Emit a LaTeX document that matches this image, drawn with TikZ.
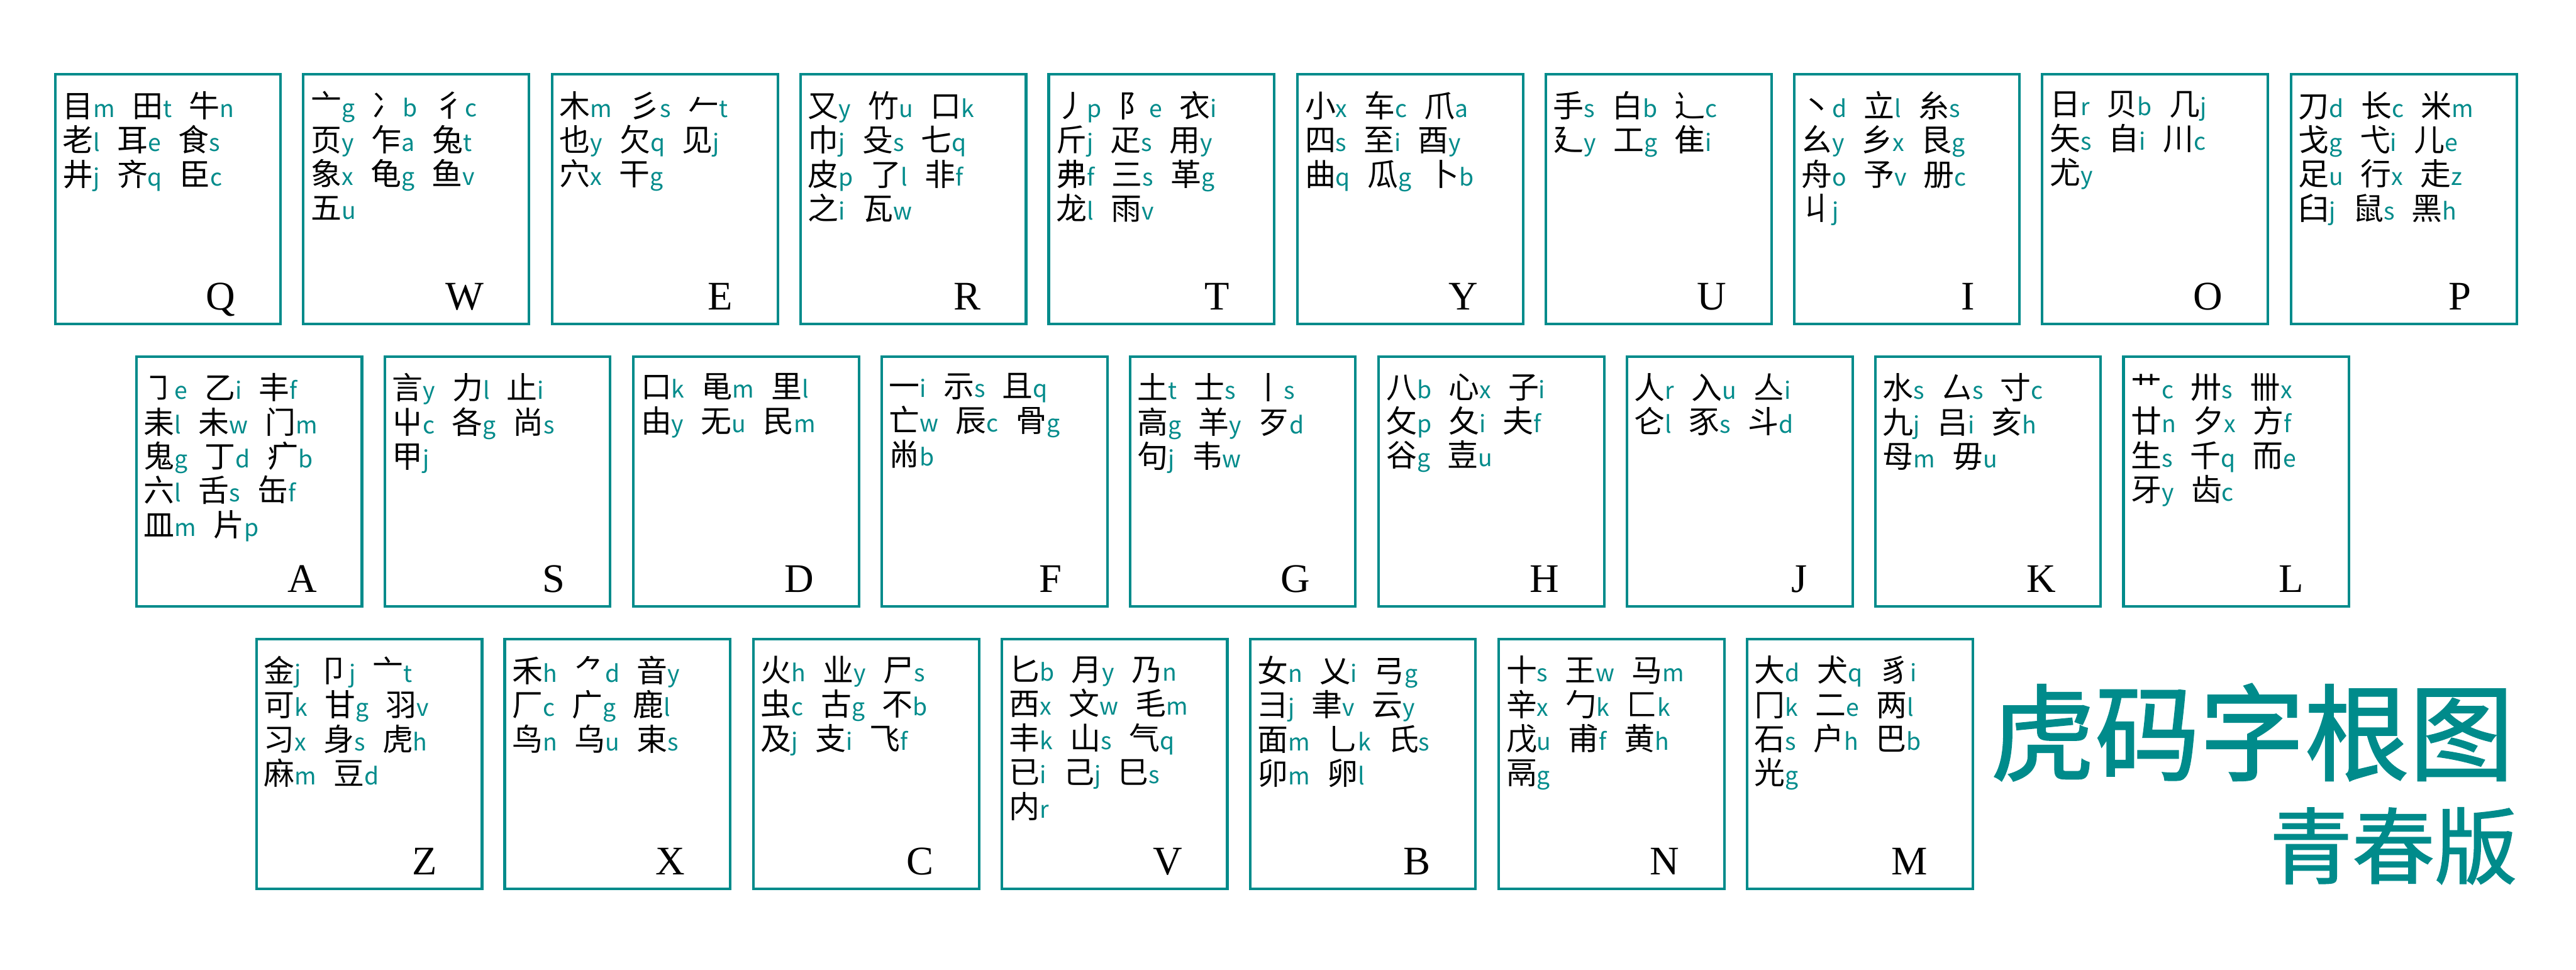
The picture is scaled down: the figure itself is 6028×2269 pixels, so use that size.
\documentclass[tikz,border=0pt]{standalone}
\usepackage{fontspec}
\usepackage{xcolor}
\usepackage{tikz}
\usetikzlibrary{calc}

\newfontfamily\cjk{Noto Sans CJK SC}
\newfontfamily\titlecjk[FakeBold=1.5]{Noto Sans CJK SC}
\newfontfamily\keyserif{Liberation Serif}
\definecolor{hmteal}{RGB}{0,139,139}
\newcommand{\rootfont}{\cjk\fontsize{7.2mm}{8mm}\selectfont}
% radical + its code letter
\newcommand{\zg}[2]{#1{\fontsize{5.5mm}{8mm}\selectfont\color{hmteal}#2}\hspace{4mm}}

\begin{document}
\begin{tikzpicture}[
    x=0.1mm, y=-0.1mm,
    keybox/.style={draw=hmteal, line width=0.6mm, anchor=north west, minimum width=52.8mm, minimum height=58.4mm, inner sep=0pt},
    roots/.style={anchor=north west, inner sep=0pt, align=left, font=\rootfont, execute at begin node={\rule{0pt}{7mm}}},
    keyname/.style={anchor=base east, inner sep=0pt, font=\keyserif\fontsize{9.5mm}{10mm}\selectfont},
    maintitle/.style={inner sep=0pt, text=hmteal, font=\titlecjk\fontsize{24.5mm}{26mm}\selectfont},
    subtitle/.style={inner sep=0pt, text=hmteal, font=\titlecjk\fontsize{19.3mm}{21mm}\selectfont}
]
    \fill[white] (0,0) rectangle (6028,2269);
    \useasboundingbox (0,0) rectangle (6028,2269);

    % Row 1
    \node[keybox] (Q) at (126,171) {};
    \node[keybox] (W) at (707,171) {};
    \node[keybox] (E) at (1289,171) {};
    \node[keybox] (R) at (1870,171) {};
    \node[keybox] (T) at (2451,171) {};
    \node[keybox] (Y) at (3033,171) {};
    \node[keybox] (U) at (3614,171) {};
    \node[keybox] (I) at (4195,171) {};
    \node[keybox] (O) at (4776,171) {};
    \node[keybox] (P) at (5358,171) {};

    % Row 2
    \node[keybox] (A) at (316,831) {};
    \node[keybox] (S) at (897,831) {};
    \node[keybox] (D) at (1479,831) {};
    \node[keybox] (F) at (2060,831) {};
    \node[keybox] (G) at (2641,831) {};
    \node[keybox] (H) at (3223,831) {};
    \node[keybox] (J) at (3804,831) {};
    \node[keybox] (K) at (4385,831) {};
    \node[keybox] (L) at (4966,831) {};

    % Row 3
    \node[keybox] (Z) at (597,1492) {};
    \node[keybox] (X) at (1178,1492) {};
    \node[keybox] (C) at (1760,1492) {};
    \node[keybox] (V) at (2341,1492) {};
    \node[keybox] (B) at (2922,1492) {};
    \node[keybox] (N) at (3504,1492) {};
    \node[keybox] (M) at (4085,1492) {};

    % Key letters
    \foreach \k in {Q,W,E,R,T,Y,U,I,O,P,A,S,D,F,G,H,J,K,L,Z,X,C,V,B,N,M}
        \node[keyname] (\k-name) at ($(\k.south east)+(-108,-36)$) {\k};

    % Radicals
    \node[roots] (Q-roots) at ($(Q.north west)+(20,42)$) {\zg{目}{m}\zg{田}{t}\zg{牛}{n}\\\zg{老}{l}\zg{耳}{e}\zg{食}{s}\\\zg{井}{j}\zg{齐}{q}\zg{臣}{c}};
    \node[roots] (W-roots) at ($(W.north west)+(20,42)$) {\zg{亠}{g}\zg{冫}{b}\zg{彳}{c}\\\zg{页}{y}\zg{乍}{a}\zg{兔}{t}\\\zg{象}{x}\zg{龟}{g}\zg{鱼}{v}\\\zg{五}{u}};
    \node[roots] (E-roots) at ($(E.north west)+(20,42)$) {\zg{木}{m}\zg{彡}{s}\zg{𠂉}{t}\\\zg{也}{y}\zg{欠}{q}\zg{见}{j}\\\zg{穴}{x}\zg{干}{g}};
    \node[roots] (R-roots) at ($(R.north west)+(20,42)$) {\zg{又}{y}\zg{竹}{u}\zg{口}{k}\\\zg{巾}{j}\zg{殳}{s}\zg{七}{q}\\\zg{皮}{p}\zg{了}{l}\zg{非}{f}\\\zg{之}{i}\zg{瓦}{w}};
    \node[roots] (T-roots) at ($(T.north west)+(20,42)$) {\zg{丿}{p}\zg{阝}{e}\zg{衣}{i}\\\zg{斤}{j}\zg{疋}{s}\zg{用}{y}\\\zg{弗}{f}\zg{三}{s}\zg{革}{g}\\\zg{龙}{l}\zg{雨}{v}};
    \node[roots] (Y-roots) at ($(Y.north west)+(20,42)$) {\zg{小}{x}\zg{车}{c}\zg{爪}{a}\\\zg{四}{s}\zg{至}{i}\zg{酉}{y}\\\zg{曲}{q}\zg{瓜}{g}\zg{卜}{b}};
    \node[roots] (U-roots) at ($(U.north west)+(20,42)$) {\zg{手}{s}\zg{白}{b}\zg{辶}{c}\\\zg{廴}{y}\zg{工}{g}\zg{隹}{i}};
    \node[roots] (I-roots) at ($(I.north west)+(20,42)$) {\zg{丶}{d}\zg{立}{l}\zg{糸}{s}\\\zg{幺}{y}\zg{乡}{x}\zg{艮}{g}\\\zg{舟}{o}\zg{予}{v}\zg{册}{c}\\\zg{丩}{j}};
    \node[roots] (O-roots) at ($(O.north west)+(20,42)$) {\zg{日}{r}\zg{贝}{b}\zg{几}{j}\\\zg{矢}{s}\zg{自}{i}\zg{川}{c}\\\zg{尤}{y}};
    \node[roots] (P-roots) at ($(P.north west)+(20,42)$) {\zg{刀}{d}\zg{长}{c}\zg{米}{m}\\\zg{戈}{g}\zg{弋}{i}\zg{儿}{e}\\\zg{足}{u}\zg{行}{x}\zg{走}{z}\\\zg{臼}{j}\zg{鼠}{s}\zg{黑}{h}};

    \node[roots] (A-roots) at ($(A.north west)+(20,42)$) {\zg{㇆}{e}\zg{乙}{i}\zg{丰}{f}\\\zg{耒}{l}\zg{未}{w}\zg{门}{m}\\\zg{鬼}{g}\zg{丁}{d}\zg{疒}{b}\\\zg{六}{l}\zg{舌}{s}\zg{缶}{f}\\\zg{皿}{m}\zg{片}{p}};
    \node[roots] (S-roots) at ($(S.north west)+(20,42)$) {\zg{言}{y}\zg{力}{l}\zg{止}{i}\\\zg{屮}{c}\zg{各}{g}\zg{尚}{s}\\\zg{甲}{j}};
    \node[roots] (D-roots) at ($(D.north west)+(20,42)$) {\zg{口}{k}\zg{黾}{m}\zg{里}{l}\\\zg{由}{y}\zg{无}{u}\zg{民}{m}};
    \node[roots] (F-roots) at ($(F.north west)+(20,42)$) {\zg{一}{i}\zg{示}{s}\zg{且}{q}\\\zg{亡}{w}\zg{辰}{c}\zg{骨}{g}\\\zg{㡀}{b}};
    \node[roots] (G-roots) at ($(G.north west)+(20,42)$) {\zg{土}{t}\zg{士}{s}\zg{丨}{s}\\\zg{高}{g}\zg{羊}{y}\zg{歹}{d}\\\zg{句}{j}\zg{韦}{w}};
    \node[roots] (H-roots) at ($(H.north west)+(20,42)$) {\zg{八}{b}\zg{心}{x}\zg{子}{i}\\\zg{攵}{p}\zg{夂}{i}\zg{夫}{f}\\\zg{谷}{g}\zg{壴}{u}};
    \node[roots] (J-roots) at ($(J.north west)+(20,42)$) {\zg{人}{r}\zg{入}{u}\zg{亼}{i}\\\zg{仑}{l}\zg{豕}{s}\zg{斗}{d}};
    \node[roots] (K-roots) at ($(K.north west)+(20,42)$) {\zg{水}{s}\zg{厶}{s}\zg{寸}{c}\\\zg{九}{j}\zg{吕}{i}\zg{亥}{h}\\\zg{母}{m}\zg{毋}{u}};
    \node[roots] (L-roots) at ($(L.north west)+(20,42)$) {\zg{艹}{c}\zg{卅}{s}\zg{卌}{x}\\\zg{廿}{n}\zg{夕}{x}\zg{方}{f}\\\zg{生}{s}\zg{千}{q}\zg{而}{e}\\\zg{牙}{y}\zg{齿}{c}};

    \node[roots] (Z-roots) at ($(Z.north west)+(20,42)$) {\zg{金}{j}\zg{卩}{j}\zg{亠}{t}\\\zg{可}{k}\zg{甘}{g}\zg{羽}{v}\\\zg{习}{x}\zg{身}{s}\zg{虎}{h}\\\zg{麻}{m}\zg{豆}{d}};
    \node[roots] (X-roots) at ($(X.north west)+(20,42)$) {\zg{禾}{h}\zg{⺈}{d}\zg{音}{y}\\\zg{厂}{c}\zg{广}{g}\zg{鹿}{l}\\\zg{鸟}{n}\zg{乌}{u}\zg{束}{s}};
    \node[roots] (C-roots) at ($(C.north west)+(20,42)$) {\zg{火}{h}\zg{业}{y}\zg{尸}{s}\\\zg{虫}{c}\zg{古}{g}\zg{不}{b}\\\zg{及}{j}\zg{支}{i}\zg{飞}{f}};
    \node[roots] (V-roots) at ($(V.north west)+(20,42)$) {\zg{匕}{b}\zg{月}{y}\zg{乃}{n}\\\zg{西}{x}\zg{文}{w}\zg{毛}{m}\\\zg{丰}{k}\zg{山}{s}\zg{气}{q}\\\zg{已}{i}\zg{己}{j}\zg{巳}{s}\\\zg{内}{r}};
    \node[roots] (B-roots) at ($(B.north west)+(20,42)$) {\zg{女}{n}\zg{乂}{i}\zg{弓}{g}\\\zg{彐}{j}\zg{聿}{v}\zg{云}{y}\\\zg{面}{m}\zg{⺃}{k}\zg{氏}{s}\\\zg{卯}{m}\zg{卵}{l}};
    \node[roots] (N-roots) at ($(N.north west)+(20,42)$) {\zg{十}{s}\zg{王}{w}\zg{马}{m}\\\zg{辛}{x}\zg{勹}{k}\zg{匚}{k}\\\zg{戊}{u}\zg{甫}{f}\zg{黄}{h}\\\zg{鬲}{g}};
    \node[roots] (M-roots) at ($(M.north west)+(20,42)$) {\zg{大}{d}\zg{犬}{q}\zg{豸}{i}\\\zg{冂}{k}\zg{二}{e}\zg{两}{l}\\\zg{石}{s}\zg{户}{h}\zg{巴}{b}\\\zg{光}{g}};

    % Title
    \node[maintitle, anchor=base west] (title) at (4657,1807) {虎码字根图};
    \node[subtitle, anchor=base east] (subtitle) at (5891,2052) {青春版};

\end{tikzpicture}
\end{document}
